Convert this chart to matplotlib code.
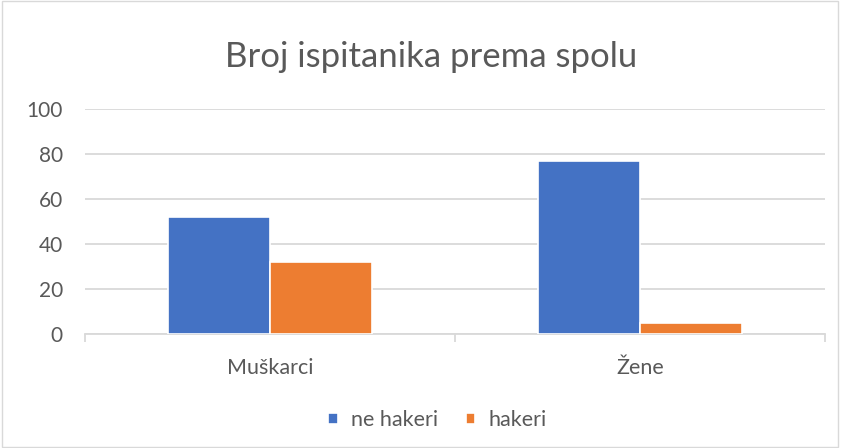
import numpy as np
import matplotlib.pyplot as plt

plt.rcParams['font.family'] = ['Lato', 'DejaVu Sans']

categories = ['Muškarci', 'Žene']
ne_hakeri = [52, 77]
hakeri = [32, 5]
yticks = [0, 20, 40, 60, 80, 100]

blue = '#4472C4'
orange = '#ED7D31'
grey = '#595959'

fig = plt.figure(figsize=(8.41, 4.48), dpi=100)
ax = fig.add_axes([85/841, 1-334/448, 740/841, 225/448])

x = np.arange(len(categories))
w = 0.275
ax.bar(x - w/2, ne_hakeri, w, color=blue, edgecolor='white', linewidth=1.2, label='ne hakeri', zorder=3)
ax.bar(x + w/2, hakeri, w, color=orange, edgecolor='white', linewidth=1.2, label='hakeri', zorder=3)

ax.set_xlim(-0.5, len(categories) - 0.5)
ax.set_ylim(0, 100)
ax.set_yticks(yticks)
ax.set_yticklabels([str(v) for v in yticks], fontsize=15, color=grey)
ax.tick_params(axis='y', length=0, pad=16)
ax.grid(axis='y', color='#D9D9D9', linewidth=1.3, zorder=0)

ax.set_xticks(x)
ax.set_xticklabels(categories, fontsize=15.5, color=grey)
ax.tick_params(axis='x', length=0, pad=17)
# category boundary ticks
ax.set_xticks(np.arange(len(categories) + 1) - 0.5, minor=True)
ax.tick_params(axis='x', which='minor', length=6, color='#D9D9D9', width=1.3)

for s in ['top', 'right', 'left']:
    ax.spines[s].set_visible(False)
ax.spines['bottom'].set_color('#D9D9D9')
ax.spines['bottom'].set_linewidth(1.3)

fig.text(431/841, 1-57/448, 'Broj ispitanika prema spolu', ha='center', va='center',
         fontsize=25, color=grey)

leg = fig.legend(loc='center', bbox_to_anchor=(0.52, 1-420/448), ncol=2, frameon=False,
                 fontsize=15.5, handlelength=0.45, handleheight=0.45, handletextpad=0.6,
                 columnspacing=1.3)
for t in leg.get_texts():
    t.set_color(grey)

# light outer border like the chart area
fig.patches.append(plt.Rectangle((0.002, 0.003), 0.995, 0.994, transform=fig.transFigure,
                                 fill=False, edgecolor='#D9D9D9', linewidth=1))

fig.savefig('out.png', dpi=100)
